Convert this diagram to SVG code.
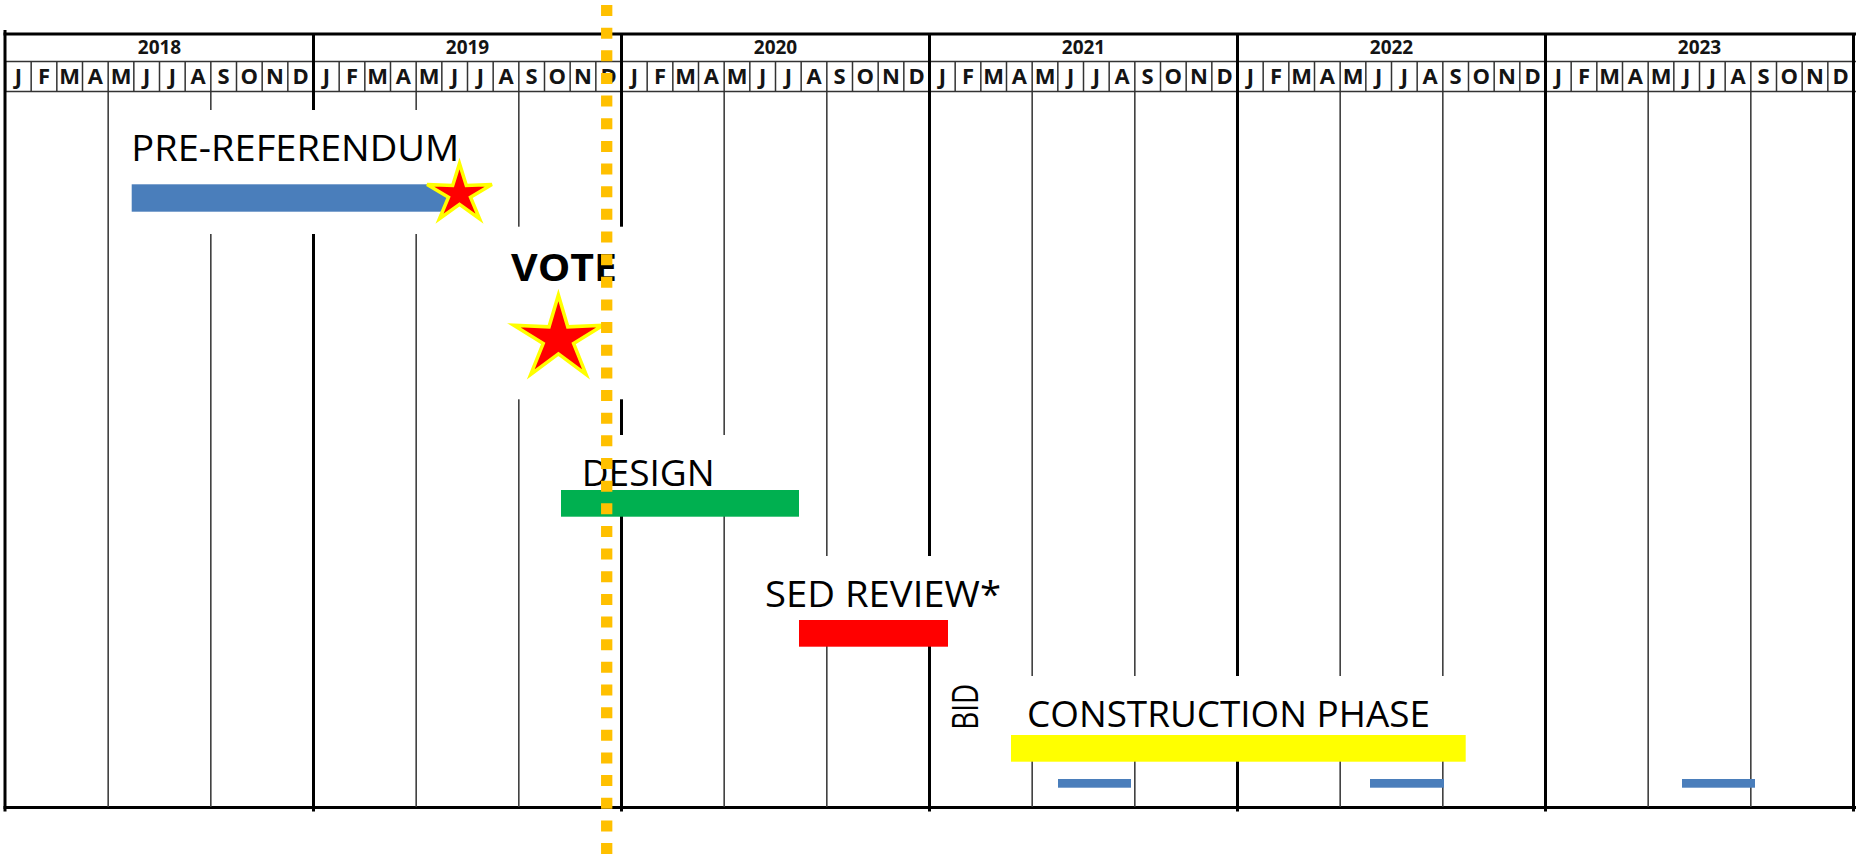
<svg xmlns="http://www.w3.org/2000/svg" width="1856" height="859" viewBox="0 0 1856 859">
<style>
.lbl{font-family:"Open Sans","Liberation Sans",sans-serif;font-size:37px;fill:#000}
.hdr{font-family:"Open Sans","Liberation Sans",sans-serif;font-weight:bold;fill:#141414}
.thin{stroke:#333;stroke-width:1.5;fill:none}
.thick{stroke:#000;stroke-width:3;fill:none}
.star{fill:#ff0000;stroke:#ffff00;stroke-width:3.5;stroke-linejoin:miter}
.mask{fill:#fff}
</style>
<rect x="0" y="0" width="1856" height="859" fill="#fff"/>
<g id="grid">
  <path class="thick" d="M3.5,34H1856M3.5,807.5H1856" stroke-width="3.3"/>
  <path class="thin" d="M5,61.5H1856" stroke="#222" stroke-width="2.3"/>
  <path class="thin" d="M5,91.5H1856" stroke="#111" stroke-width="2.6"/>
  <line x1="4.75" y1="76.5" x2="1853.5" y2="76.5" stroke="#333" stroke-width="29" stroke-dasharray="1.5 24.1667"/>
  <path class="thin" d="M108.17,92V807M210.83,92V807M416.17,92V807M518.83,92V807M724.17,92V807M826.83,92V807M1032.17,92V807M1134.83,92V807M1340.17,92V807M1442.83,92V807M1648.17,92V807M1750.83,92V807"/>
  <path class="thick" d="M5,30V811.5M313.5,33V811.5M621.5,33V811.5M929.5,33V811.5M1237.5,33V811.5M1545.5,33V811.5M1853.5,33V811.5"/>
</g>
<g id="header">
  <text class="hdr" font-size="19" text-anchor="middle" y="54.3"><tspan x="159.5">2018</tspan><tspan x="467.5">2019</tspan><tspan x="775.5">2020</tspan><tspan x="1083.5">2021</tspan><tspan x="1391.5">2022</tspan><tspan x="1699.5">2023</tspan></text>
  <text class="hdr" font-size="22" text-anchor="middle" y="84.3" x="18.33 44 69.67 95.33 121 146.67 172.33 198 223.67 249.33 275 300.67">JFMAMJJASOND</text>
  <text class="hdr" font-size="22" text-anchor="middle" y="84.3" x="326.33 352 377.67 403.33 429 454.67 480.33 506 531.67 557.33 583 608.67">JFMAMJJASOND</text>
  <text class="hdr" font-size="22" text-anchor="middle" y="84.3" x="634.33 660 685.67 711.33 737 762.67 788.33 814 839.67 865.33 891 916.67">JFMAMJJASOND</text>
  <text class="hdr" font-size="22" text-anchor="middle" y="84.3" x="942.33 968 993.67 1019.33 1045 1070.67 1096.33 1122 1147.67 1173.33 1199 1224.67">JFMAMJJASOND</text>
  <text class="hdr" font-size="22" text-anchor="middle" y="84.3" x="1250.33 1276 1301.67 1327.33 1353 1378.67 1404.33 1430 1455.67 1481.33 1507 1532.67">JFMAMJJASOND</text>
  <text class="hdr" font-size="22" text-anchor="middle" y="84.3" x="1558.33 1584 1609.67 1635.33 1661 1686.67 1712.33 1738 1763.67 1789.33 1815 1840.67">JFMAMJJASOND</text>
</g>
<g id="pre-referendum">
  <rect class="mask" x="113" y="110" width="392" height="124"/>
  <text class="lbl" x="131.3" y="161" textLength="328" lengthAdjust="spacingAndGlyphs">PRE-REFERENDUM</text>
  <rect x="131.7" y="184.3" width="318" height="27.4" fill="#4a7ebb"/>
  <polygon class="star" points="459.5,163.4 466.31,185.56 491.9,184.52 470.52,197.18 479.53,218.7 459.5,204.36 439.47,218.7 448.48,197.18 427.1,184.52 452.69,185.56"/>
</g>
<g id="vote">
  <rect class="mask" x="470" y="226.7" width="220" height="172.6"/>
  <text class="lbl" font-size="41" font-weight="bold" x="511" y="281" textLength="106" lengthAdjust="spacingAndGlyphs">VOTE</text>
  <polygon class="star" points="558.4,295 567.79,326.82 603.1,325.33 573.6,343.5 586.03,374.4 558.4,353.81 530.77,374.4 543.2,343.5 513.7,325.33 549.01,326.82"/>
</g>
<g id="design">
  <rect class="mask" x="535" y="435" width="260" height="55"/>
  <text class="lbl" x="581.7" y="486" textLength="133" lengthAdjust="spacingAndGlyphs">DESIGN</text>
  <rect x="561" y="490" width="238" height="26.7" fill="#00b050"/>
</g>
<g id="sed-review">
  <rect class="mask" x="745" y="556" width="250" height="64"/>
  <text class="lbl" x="765" y="606.7" textLength="236" lengthAdjust="spacingAndGlyphs">SED REVIEW*</text>
  <rect x="799" y="620" width="149" height="26.7" fill="#ff0000"/>
</g>
<g id="bid">
  <text class="lbl" font-size="28" transform="translate(978.3,729.8) rotate(-90)" x="0" y="0" textLength="46" lengthAdjust="spacingAndGlyphs">BID</text>
</g>
<g id="construction-phase">
  <rect class="mask" x="1000" y="676" width="530" height="59"/>
  <text class="lbl" x="1027" y="727.3" textLength="403" lengthAdjust="spacingAndGlyphs">CONSTRUCTION PHASE</text>
  <rect x="1011" y="735" width="454.7" height="26.7" fill="#ffff00"/>
</g>
<g id="minor-bars" fill="#4a7ebb">
  <rect x="1058" y="779" width="73" height="8.7"/>
  <rect x="1370" y="779" width="74" height="8.7"/>
  <rect x="1682" y="779" width="73" height="8.7"/>
</g>
<g id="connectors">
  <line x1="606.7" y1="5" x2="606.7" y2="859" stroke="#ffc000" stroke-width="11.3" stroke-dasharray="11 11.65"/>
</g>
</svg>
